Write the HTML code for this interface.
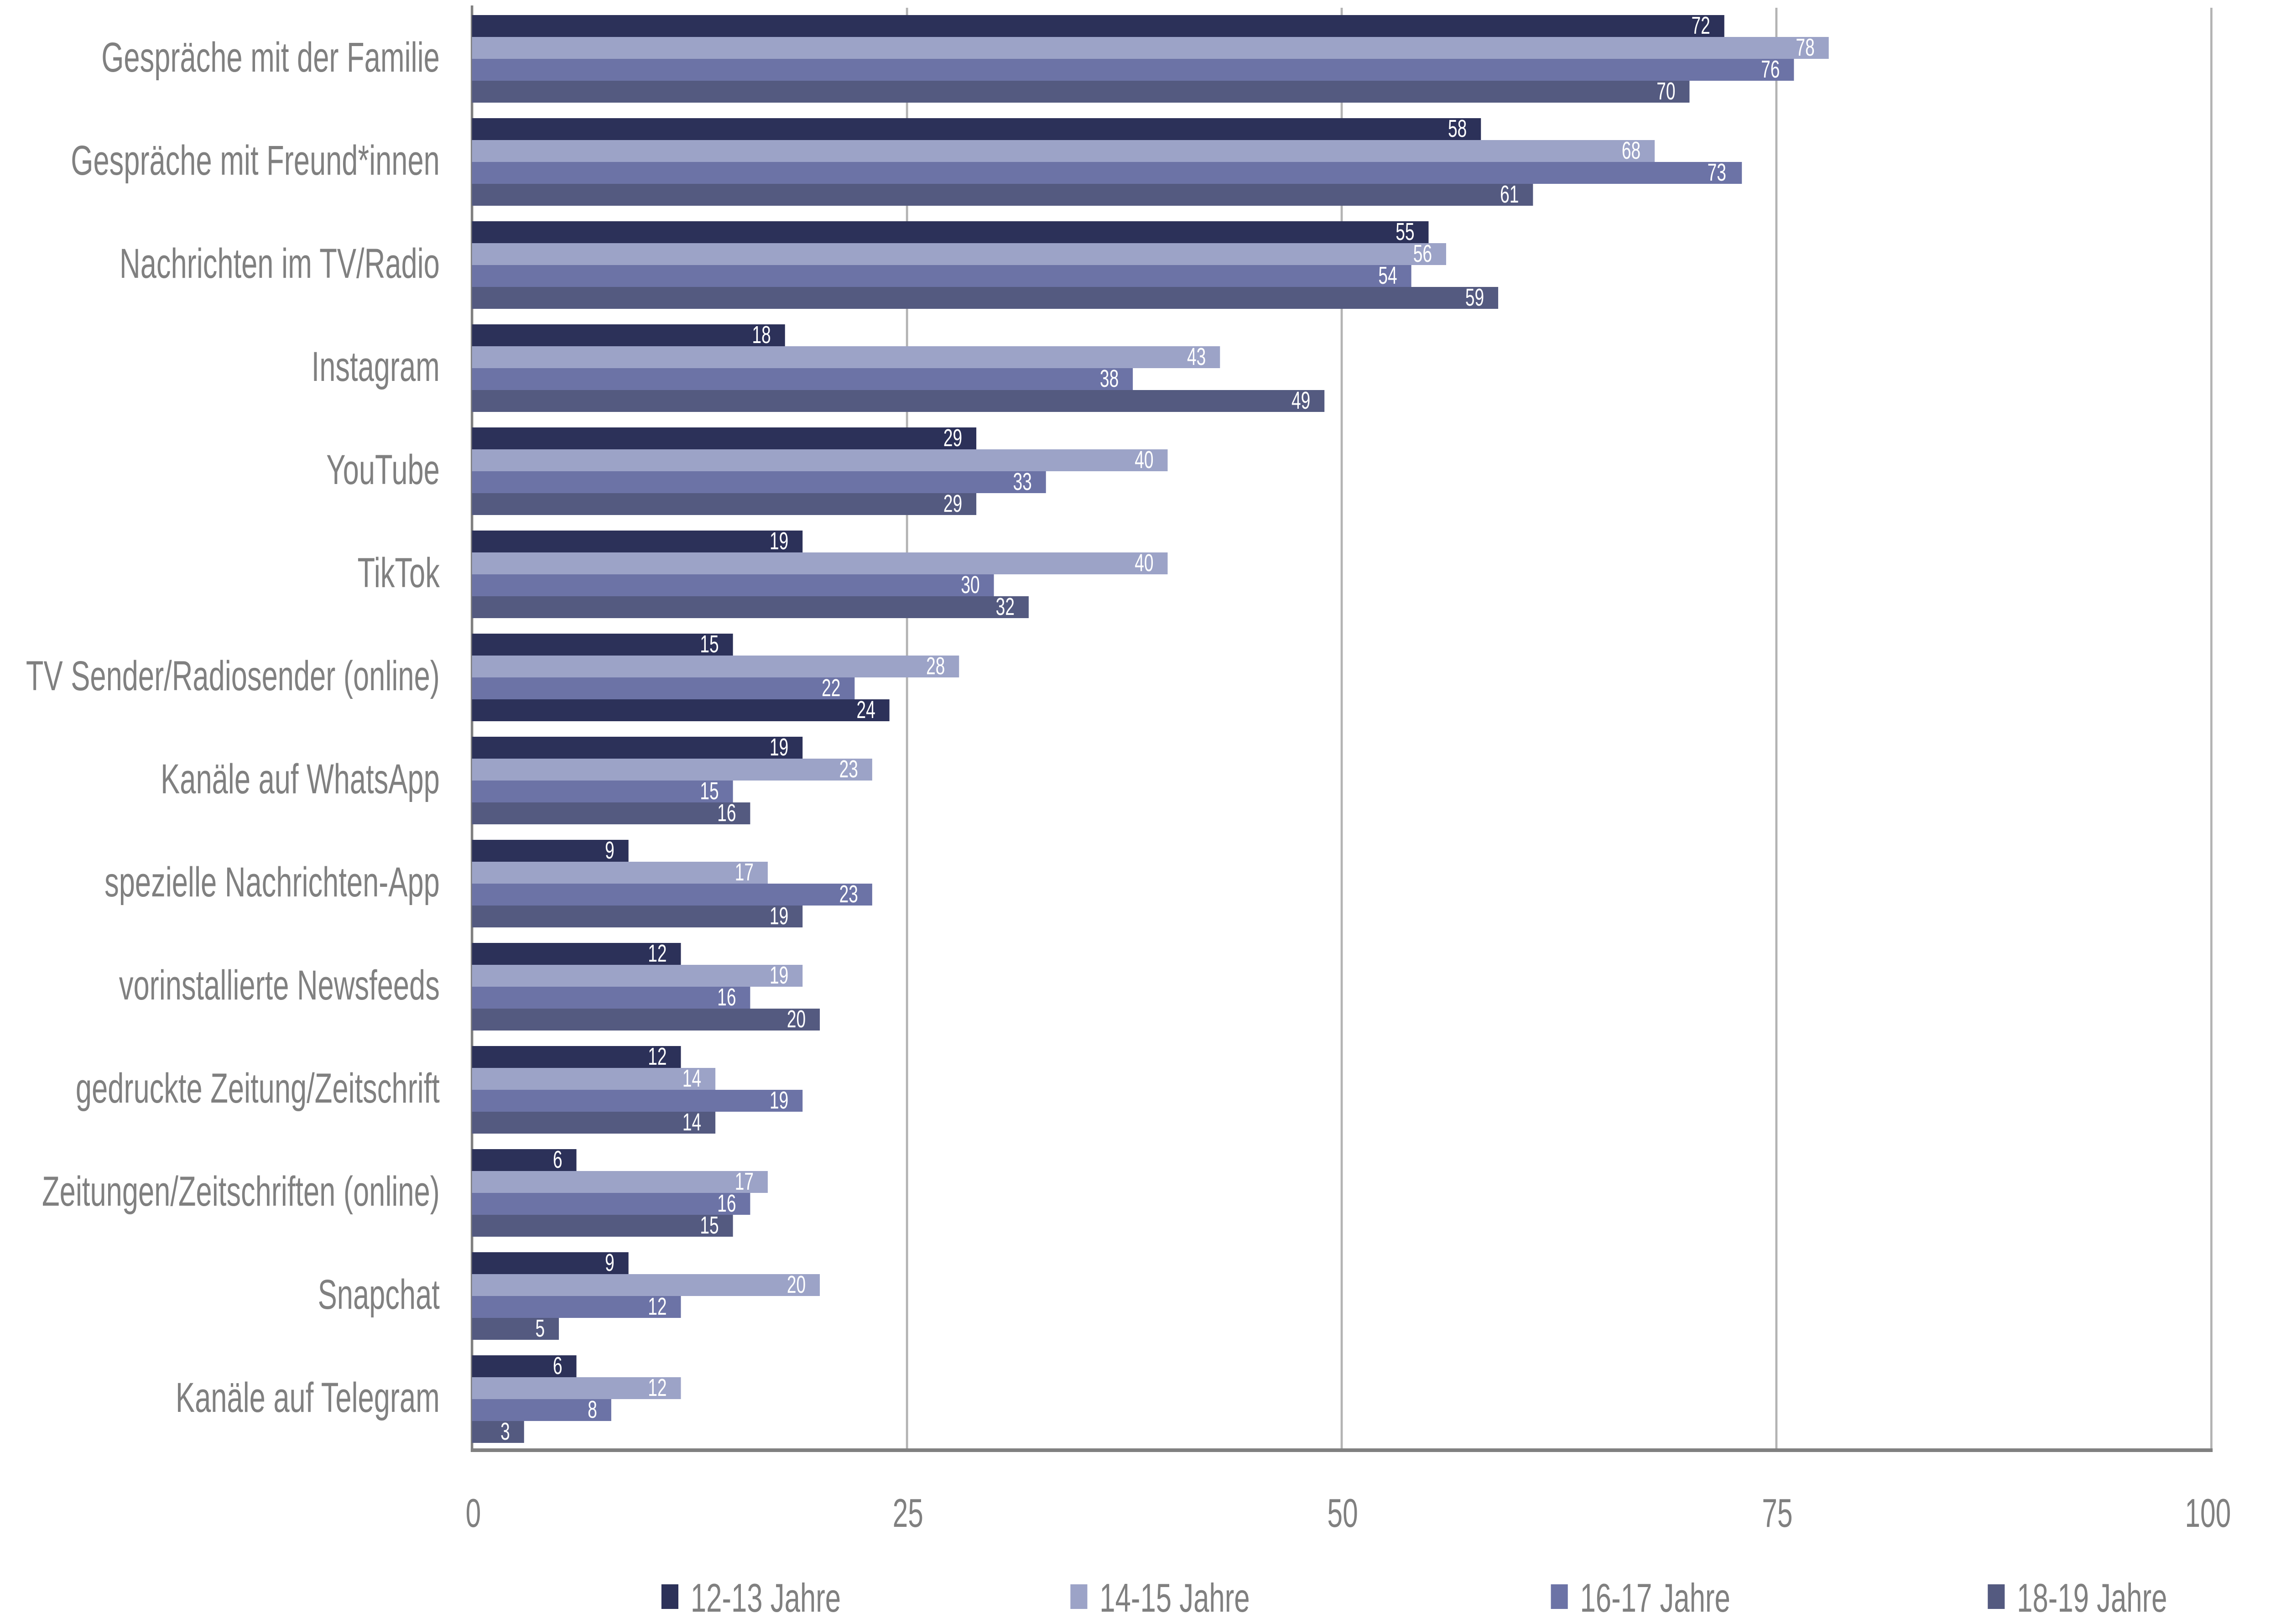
<!DOCTYPE html>
<html><head><meta charset="utf-8"><style>html,body{margin:0;padding:0;background:#fff;width:100%;height:100%;overflow:hidden}svg{display:block;position:absolute;left:0;top:0;width:100vw;height:100vh}</style></head>
<body>
<svg xmlns="http://www.w3.org/2000/svg" viewBox="0 0 7273 3560" preserveAspectRatio="none" font-family="'Liberation Sans', sans-serif">
<rect width="7273" height="3560" fill="#fff"/>
<g stroke="#b3b3b3" stroke-width="7">
<line x1="2892" y1="17" x2="2892" y2="3179"/>
<line x1="4278" y1="17" x2="4278" y2="3179"/>
<line x1="5664" y1="17" x2="5664" y2="3179"/>
<line x1="7051" y1="17" x2="7051" y2="3179"/>
</g>
<line x1="1505" y1="12" x2="1505" y2="3183" stroke="#808080" stroke-width="8"/>
<line x1="1501" y1="3179" x2="7055" y2="3179" stroke="#808080" stroke-width="8"/>
<g fill="#808080" font-size="88" text-anchor="middle">
<text x="1509" y="3347">0</text><text x="2895" y="3347">25</text><text x="4281" y="3347">50</text><text x="5667" y="3347">75</text><text x="7040" y="3347">100</text>
</g>
<g font-size="88" fill="#808080">
<rect x="2109" y="3473" width="54" height="54" fill="#2c3159"/><text x="2202" y="3533" textLength="479" lengthAdjust="spacingAndGlyphs">12-13 Jahre</text>
<rect x="3413" y="3473" width="54" height="54" fill="#9ca3c7"/><text x="3506" y="3533" textLength="479" lengthAdjust="spacingAndGlyphs">14-15 Jahre</text>
<rect x="4945" y="3473" width="54" height="54" fill="#6c73a6"/><text x="5038" y="3533" textLength="479" lengthAdjust="spacingAndGlyphs">16-17 Jahre</text>
<rect x="6338" y="3473" width="54" height="54" fill="#545a80"/><text x="6431" y="3533" textLength="479" lengthAdjust="spacingAndGlyphs">18-19 Jahre</text>
</g>
<g font-size="92" fill="#808080" text-anchor="end">
<text x="1402" y="157">Gespräche mit der Familie</text>
<text x="1402" y="383">Gespräche mit Freund*innen</text>
<text x="1402" y="609">Nachrichten im TV/Radio</text>
<text x="1402" y="835">Instagram</text>
<text x="1402" y="1061">YouTube</text>
<text x="1402" y="1287">TikTok</text>
<text x="1402" y="1513">TV Sender/Radiosender (online)</text>
<text x="1402" y="1739">Kanäle auf WhatsApp</text>
<text x="1402" y="1965">spezielle Nachrichten-App</text>
<text x="1402" y="2191">vorinstallierte Newsfeeds</text>
<text x="1402" y="2417">gedruckte Zeitung/Zeitschrift</text>
<text x="1402" y="2643">Zeitungen/Zeitschriften (online)</text>
<text x="1402" y="2869">Snapchat</text>
<text x="1402" y="3095">Kanäle auf Telegram</text>
</g>
<g font-size="54" fill="#fff" text-anchor="end">
<rect x="1505" y="33" width="3993" height="48" fill="#2c3159"/><text x="5453" y="74">72</text>
<rect x="1505" y="81" width="4326" height="48" fill="#9ca3c7"/><text x="5786" y="122">78</text>
<rect x="1505" y="129" width="4215" height="48" fill="#6c73a6"/><text x="5675" y="170">76</text>
<rect x="1505" y="177" width="3882" height="48" fill="#545a80"/><text x="5342" y="218">70</text>

<rect x="1505" y="259" width="3217" height="48" fill="#2c3159"/><text x="4677" y="300">58</text>
<rect x="1505" y="307" width="3771" height="48" fill="#9ca3c7"/><text x="5231" y="348">68</text>
<rect x="1505" y="355" width="4049" height="48" fill="#6c73a6"/><text x="5504" y="396">73</text>
<rect x="1505" y="403" width="3383" height="48" fill="#545a80"/><text x="4843" y="444">61</text>

<rect x="1505" y="485" width="3050" height="48" fill="#2c3159"/><text x="4510" y="526">55</text>
<rect x="1505" y="533" width="3106" height="48" fill="#9ca3c7"/><text x="4566" y="574">56</text>
<rect x="1505" y="581" width="2995" height="48" fill="#6c73a6"/><text x="4455" y="622">54</text>
<rect x="1505" y="629" width="3272" height="48" fill="#545a80"/><text x="4732" y="670">59</text>

<rect x="1505" y="711" width="998" height="48" fill="#2c3159"/><text x="2458" y="752">18</text>
<rect x="1505" y="759" width="2385" height="48" fill="#9ca3c7"/><text x="3845" y="800">43</text>
<rect x="1505" y="807" width="2107" height="48" fill="#6c73a6"/><text x="3567" y="848">38</text>
<rect x="1505" y="855" width="2718" height="48" fill="#545a80"/><text x="4178" y="896">49</text>

<rect x="1505" y="937" width="1608" height="48" fill="#2c3159"/><text x="3068" y="978">29</text>
<rect x="1505" y="985" width="2218" height="48" fill="#9ca3c7"/><text x="3678" y="1026">40</text>
<rect x="1505" y="1033" width="1830" height="48" fill="#6c73a6"/><text x="3290" y="1074">33</text>
<rect x="1505" y="1081" width="1608" height="48" fill="#545a80"/><text x="3068" y="1122">29</text>

<rect x="1505" y="1163" width="1054" height="48" fill="#2c3159"/><text x="2514" y="1204">19</text>
<rect x="1505" y="1211" width="2218" height="48" fill="#9ca3c7"/><text x="3678" y="1252">40</text>
<rect x="1505" y="1259" width="1664" height="48" fill="#6c73a6"/><text x="3124" y="1300">30</text>
<rect x="1505" y="1307" width="1775" height="48" fill="#545a80"/><text x="3235" y="1348">32</text>

<rect x="1505" y="1389" width="832" height="48" fill="#2c3159"/><text x="2292" y="1430">15</text>
<rect x="1505" y="1437" width="1553" height="48" fill="#9ca3c7"/><text x="3013" y="1478">28</text>
<rect x="1505" y="1485" width="1220" height="48" fill="#6c73a6"/><text x="2680" y="1526">22</text>
<rect x="1505" y="1533" width="1331" height="48" fill="#2c3159"/><text x="2791" y="1574">24</text>

<rect x="1505" y="1615" width="1054" height="48" fill="#2c3159"/><text x="2514" y="1656">19</text>
<rect x="1505" y="1663" width="1276" height="48" fill="#9ca3c7"/><text x="2736" y="1704">23</text>
<rect x="1505" y="1711" width="832" height="48" fill="#6c73a6"/><text x="2292" y="1752">15</text>
<rect x="1505" y="1759" width="887" height="48" fill="#545a80"/><text x="2347" y="1800">16</text>

<rect x="1505" y="1841" width="499" height="48" fill="#2c3159"/><text x="1959" y="1882">9</text>
<rect x="1505" y="1889" width="943" height="48" fill="#9ca3c7"/><text x="2403" y="1930">17</text>
<rect x="1505" y="1937" width="1276" height="48" fill="#6c73a6"/><text x="2736" y="1978">23</text>
<rect x="1505" y="1985" width="1054" height="48" fill="#545a80"/><text x="2514" y="2026">19</text>

<rect x="1505" y="2067" width="666" height="48" fill="#2c3159"/><text x="2126" y="2108">12</text>
<rect x="1505" y="2115" width="1054" height="48" fill="#9ca3c7"/><text x="2514" y="2156">19</text>
<rect x="1505" y="2163" width="887" height="48" fill="#6c73a6"/><text x="2347" y="2204">16</text>
<rect x="1505" y="2211" width="1109" height="48" fill="#545a80"/><text x="2569" y="2252">20</text>

<rect x="1505" y="2293" width="666" height="48" fill="#2c3159"/><text x="2126" y="2334">12</text>
<rect x="1505" y="2341" width="776" height="48" fill="#9ca3c7"/><text x="2236" y="2382">14</text>
<rect x="1505" y="2389" width="1054" height="48" fill="#6c73a6"/><text x="2514" y="2430">19</text>
<rect x="1505" y="2437" width="776" height="48" fill="#545a80"/><text x="2236" y="2478">14</text>

<rect x="1505" y="2519" width="333" height="48" fill="#2c3159"/><text x="1793" y="2560">6</text>
<rect x="1505" y="2567" width="943" height="48" fill="#9ca3c7"/><text x="2403" y="2608">17</text>
<rect x="1505" y="2615" width="887" height="48" fill="#6c73a6"/><text x="2347" y="2656">16</text>
<rect x="1505" y="2663" width="832" height="48" fill="#545a80"/><text x="2292" y="2704">15</text>

<rect x="1505" y="2745" width="499" height="48" fill="#2c3159"/><text x="1959" y="2786">9</text>
<rect x="1505" y="2793" width="1109" height="48" fill="#9ca3c7"/><text x="2569" y="2834">20</text>
<rect x="1505" y="2841" width="666" height="48" fill="#6c73a6"/><text x="2126" y="2882">12</text>
<rect x="1505" y="2889" width="277" height="48" fill="#545a80"/><text x="1737" y="2930">5</text>

<rect x="1505" y="2971" width="333" height="48" fill="#2c3159"/><text x="1793" y="3012">6</text>
<rect x="1505" y="3019" width="666" height="48" fill="#9ca3c7"/><text x="2126" y="3060">12</text>
<rect x="1505" y="3067" width="444" height="48" fill="#6c73a6"/><text x="1904" y="3108">8</text>
<rect x="1505" y="3115" width="166" height="48" fill="#545a80"/><text x="1626" y="3156">3</text>
</g>
</svg>
</body></html>
